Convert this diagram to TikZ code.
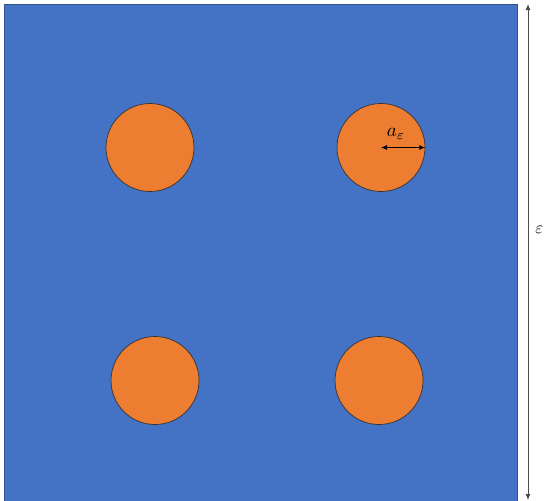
\documentclass[tikz,border=0pt]{standalone}
\usetikzlibrary{arrows.meta}
\definecolor{bluefill}{HTML}{4472C4}
\definecolor{blueedge}{HTML}{2F528F}
\definecolor{orangefill}{HTML}{ED7D31}
\begin{document}
\begin{tikzpicture}[x=1pt,y=-1pt,
  inclusion/.style={circle,draw=black!80,line width=0.7pt,fill=orangefill,minimum size=88pt,inner sep=0pt},
  dimarrow/.style={{Latex[length=6pt,width=5pt]}-{Latex[length=6pt,width=5pt]},line width=0.9pt}]
\useasboundingbox (0,0) rectangle (544,501);
\path[fill=white] (0,0) rectangle (544,501);
\draw[fill=bluefill,draw=blueedge,line width=1pt] (4.5,4.5) rectangle (517,504);
\node[inclusion] (c1) at (150,147.5) {};
\node[inclusion] (c2) at (381,147.5) {};
\node[inclusion] (c3) at (155,380.5) {};
\node[inclusion] (c4) at (379,380.5) {};
\coordinate (rc) at (c2.center);
\draw[dimarrow] (rc) -- (c2.east);
\node[scale=1.9] (alab) at (396,134) {$a_\varepsilon$};
\coordinate (top) at (528,4);
\coordinate (bot) at (528,500);
\draw[dimarrow,draw=black!70] (top) -- (bot);
\node[anchor=west,inner sep=0pt,scale=1.7] (eps) at (535,230) {$\varepsilon$};
\end{tikzpicture}
\end{document}
